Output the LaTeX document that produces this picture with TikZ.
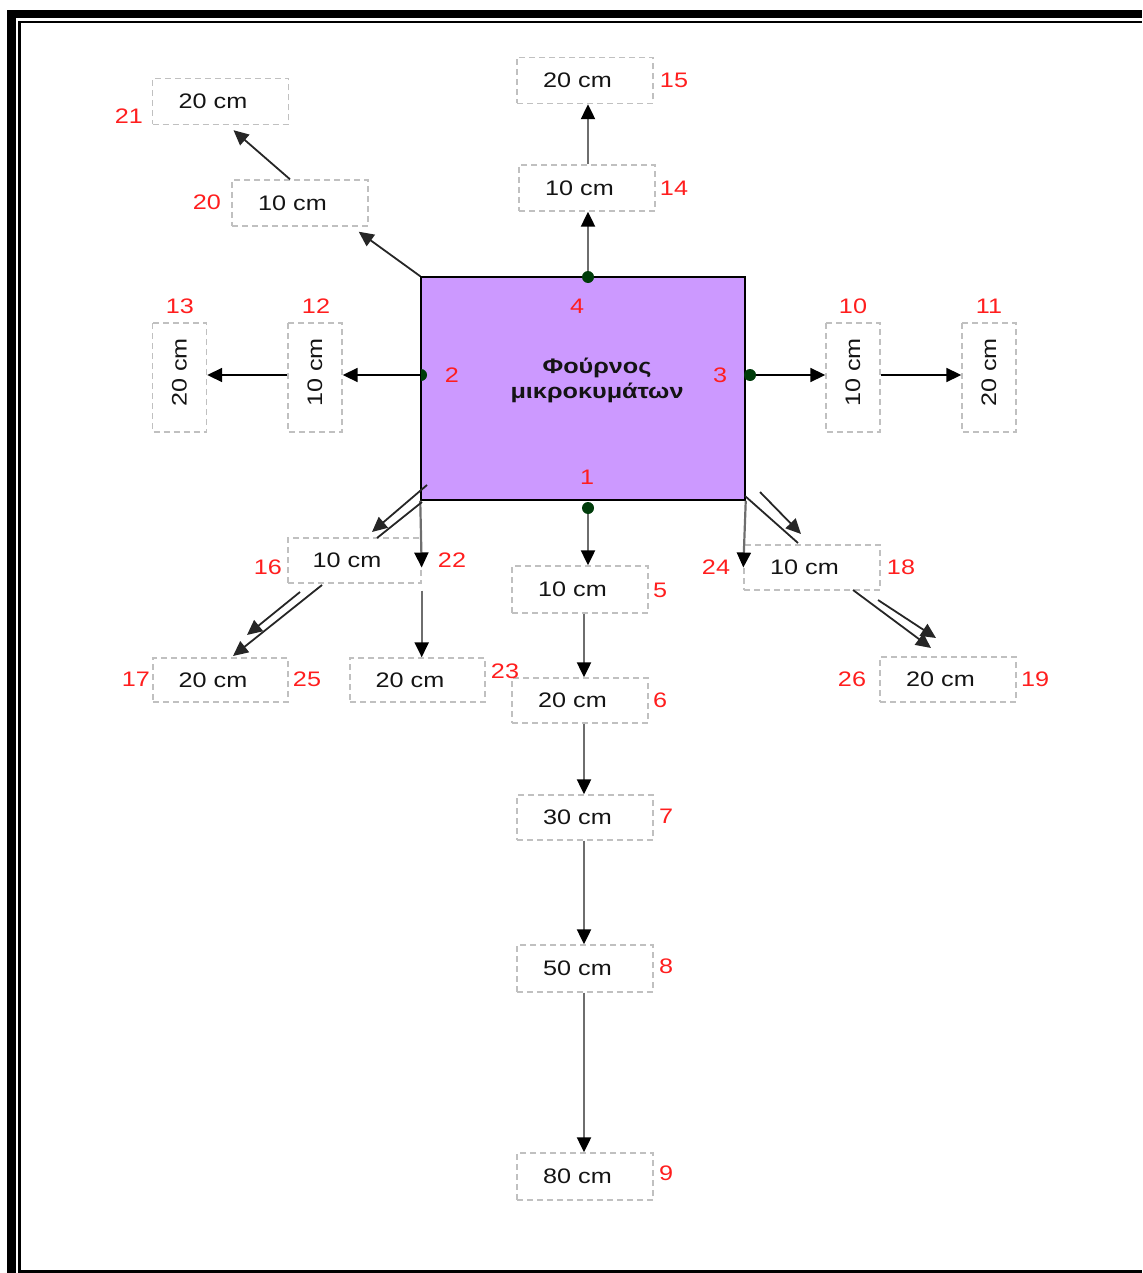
\documentclass[tikz,border=0pt]{standalone}
\usepackage{fontspec}
\setmainfont{Liberation Sans}[FakeStretch=1.2]
\usetikzlibrary{arrows.meta}
\definecolor{ovenfill}{RGB}{204,153,255}
\definecolor{dotgreen}{RGB}{0,60,10}
\definecolor{labred}{RGB}{255,30,30}
\definecolor{boxgray}{RGB}{192,192,192}
\definecolor{shaft}{RGB}{110,110,110}
\definecolor{inktext}{RGB}{20,20,20}

\begin{document}
\begin{tikzpicture}[x=1pt,y=-1pt,
  every node/.style={font=\fontsize{21}{25}\selectfont, inner sep=0pt},
  dbox/.style={draw=boxgray, line width=1.4pt, dash pattern=on 6pt off 4pt,
    minimum width=136pt, minimum height=46pt, text=inktext,
    execute at end node={\hspace*{15pt}}},
  vbox/.style={draw=boxgray, line width=1.4pt, dash pattern=on 6pt off 4pt,
    text=inktext, rotate=90, minimum width=109pt, minimum height=54pt,
    execute at begin node={\hspace*{10pt}}},
  num/.style={text=labred},
  varr/.style={draw=shaft, line width=2.2pt,
    arrows={-{Triangle[length=15pt,width=14pt,color=black]}}},
  harr/.style={draw=black, line width=1.8pt, -{Triangle[length=15pt,width=14pt]}},
  darr/.style={draw=black!85, line width=1.8pt, -{Triangle[length=15pt,width=14pt]}},
  dline/.style={draw=black!85, line width=1.8pt},
  dot/.style={fill=dotgreen}
]
\useasboundingbox (0,0) rectangle (1142,1273);

% page frame
\fill[black] (7,10) rectangle (16,1273);
\fill[black] (7,10) rectangle (1142,18);
\draw[line width=2.2pt] (19.5,1273) -- (19.5,22) -- (1142,22);
\draw[line width=2.2pt] (19.5,1271.5) -- (1142,1271.5);

% the oven
\node[draw=black, line width=1.5pt, fill=ovenfill, minimum width=324pt,
  minimum height=223pt] (m) at (583,388.5) {};
\node[align=center, font=\bfseries\fontsize{21}{25}\selectfont, text=inktext]
  (mtext) at (597,380) {Φούρνος\\μικροκυμάτων};

% measuring points on the oven faces
\node[num] (l4) at (577,306) {4};
\node[num] (l1) at (587,477) {1};
\node[num] (l2) at (452,375) {2};
\node[num] (l3) at (720,375) {3};

\coordinate (d4) at (588,277);
\coordinate (d1) at (588,508);
\coordinate (d3) at (750,375);
\coordinate (d2) at (421,375);

% distance boxes
\node[dbox] (b15) at (585,80.5) {20 cm};
\node[dbox] (b14) at (587,188) {10 cm};
\node[dbox] (b21) at (220.5,101.5) {20 cm};
\node[dbox] (b20) at (300,203) {10 cm};
\node[vbox] (b13) at (179.5,377.5) {20 cm};
\node[vbox] (b12) at (315,377.5) {10 cm};
\node[vbox] (b10) at (853,377.5) {10 cm};
\node[vbox] (b11) at (989,377.5) {20 cm};
\node[dbox, minimum width=133pt, minimum height=45pt] (b16) at (354.5,560.5) {10 cm};
\node[dbox, minimum width=135pt, minimum height=44pt] (b17) at (220.5,680) {20 cm};
\node[dbox, minimum width=135pt, minimum height=44pt] (b23) at (417.5,680) {20 cm};
\node[dbox, minimum height=47pt] (b5) at (580,589.5) {10 cm};
\node[dbox, minimum height=45pt] (b6) at (580,700.5) {20 cm};
\node[dbox, minimum height=45pt] (b7) at (585,817.5) {30 cm};
\node[dbox, minimum height=47pt] (b8) at (585,968.5) {50 cm};
\node[dbox, minimum height=47pt] (b9) at (585,1176.5) {80 cm};
\node[dbox, minimum height=45pt] (b18) at (812,567.5) {10 cm};
\node[dbox, minimum height=45pt] (b19) at (948,679.5) {20 cm};

% position numbers
\node[num] (l21) at (129,116) {21};
\node[num] (l20) at (207,202) {20};
\node[num] (l15) at (674,80) {15};
\node[num] (l14) at (674,188) {14};
\node[num] (l13) at (180,306) {13};
\node[num] (l12) at (316,306) {12};
\node[num] (l10) at (853,306) {10};
\node[num] (l11) at (989,306) {11};
\node[num] (l16) at (268,567) {16};
\node[num] (l22) at (452,560) {22};
\node[num] (l17) at (136,679) {17};
\node[num] (l25) at (307,679) {25};
\node[num] (l23) at (505,671) {23};
\node[num] (l5) at (660,590) {5};
\node[num] (l6) at (660,700) {6};
\node[num] (l7) at (666,816) {7};
\node[num] (l8) at (666,966) {8};
\node[num] (l9) at (666,1173) {9};
\node[num] (l18) at (901,567) {18};
\node[num] (l24) at (716,567) {24};
\node[num] (l26) at (852,679) {26};
\node[num] (l19) at (1035,679) {19};

% upward chain
\draw[varr] (d4) -- (d4 |- b14.south);
\draw[varr] (b14.north -| d4) -- (d4 |- b15.south);

% upper-left diagonal chain
\draw[darr] (m.north west) -- ([xshift=-10pt,yshift=-5pt]b20.south east);
\draw[darr] ([xshift=-10pt]b20.north) -- ([xshift=13pt,yshift=-5pt]b21.south);

% left chain (rotated boxes: south faces right, north faces left)
\draw[harr] (d2) -- (d2 -| b12.south);
\draw[harr] (d2 -| b12.north) -- (d2 -| b13.south);

% right chain
\draw[harr] (d3) -- (d3 -| b10.north);
\draw[harr] (d3 -| b10.south) -- (d3 -| b11.north);

% downward chain
\coordinate (cx) at (584,0);
\draw[varr] (d1) -- (d1 |- b5.north);
\draw[varr] (cx |- b5.south) -- (cx |- b6.north);
\draw[varr] (cx |- b6.south) -- (cx |- b7.north);
\draw[varr] (cx |- b7.south) -- (cx |- b8.north);
\draw[varr] (cx |- b8.south) -- (cx |- b9.north);

% lower-left corner
\draw[varr] (m.south west) -- ([yshift=-7pt]b16.east);
\draw[varr] ([yshift=-7pt]b16.south east) -- (b16.south east |- b23.north);
\coordinate (ua1) at (427,485);  \coordinate (ua2) at (372,532);
\coordinate (ub1) at (422,502);  \coordinate (ub2) at (377,538);
\draw[darr] (ua1) -- (ua2);
\draw[dline] (ub1) -- (ub2);
\coordinate (la1) at (300,592);  \coordinate (la2) at (247,635);
\coordinate (lb1) at (322,585);  \coordinate (lb2) at (233,656);
\draw[darr] (la1) -- (la2);
\draw[darr] (lb1) -- (lb2);

% lower-right corner
\draw[varr] (m.south east) -- (b18.west);
\coordinate (ra1) at (760,492);  \coordinate (ra2) at (801,534);
\coordinate (rb1) at (745,496);  \coordinate (rb2) at (798,543);
\draw[darr] (ra1) -- (ra2);
\draw[dline] (rb1) -- (rb2);
\coordinate (sa1) at (853,590);  \coordinate (sa2) at (931,648);
\coordinate (sb1) at (878,600);  \coordinate (sb2) at (936,638);
\draw[darr] (sa1) -- (sa2);
\draw[darr] (sb1) -- (sb2);

% sensor dots
\fill[dot] (d4) circle (6pt);
\fill[dot] (d1) circle (6pt);
\fill[dot] (d3) circle (6pt);
\fill[dot] ([yshift=-6pt]d2) arc (-90:90:6pt) -- cycle;
\end{tikzpicture}
\end{document}
